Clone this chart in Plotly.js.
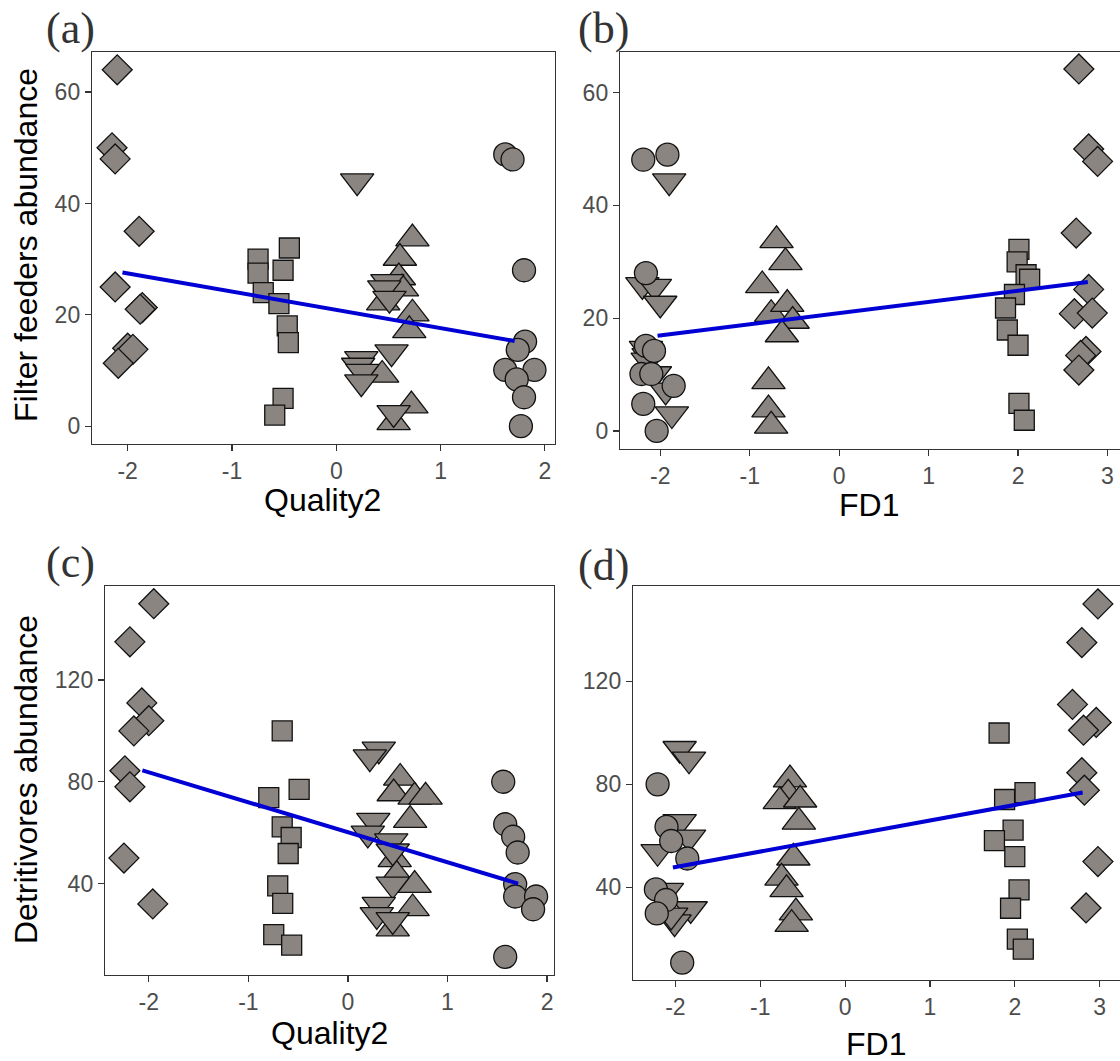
<!DOCTYPE html>
<html><head><meta charset="utf-8">
<script src="https://cdn.plot.ly/plotly-3.0.1.min.js"></script>
<style>html,body{margin:0;padding:0;background:#fff;overflow:hidden}#chart{width:1120px;height:1061px;}</style>
</head><body><div id="chart"></div>
<script>
// ---------- DATA ----------
// Panel (a): Quality2 vs Filter feeders abundance
const aDiaX = [-2.10, -2.15, -2.12, -1.89, -2.12, -1.86, -1.88, -2.00, -1.95, -2.09];
const aDiaY = [64, 50, 48, 35, 25, 21.3, 21, 14, 13.8, 11.3];
const aSqX  = [-0.75, -0.75, -0.70, -0.55, -0.45, -0.51, -0.47, -0.46, -0.51, -0.59];
const aSqY  = [30, 27.5, 24, 22, 32, 28, 18, 15, 5, 2];
const aTuX  = [0.73, 0.61, 0.60, 0.63, 0.45, 0.73, 0.70, 0.44, 0.72, 0.55];
const aTuY  = [33.7, 30.2, 26.7, 24.7, 22.2, 20.2, 17.2, 9.2, 3.7, 0.7];
const aTdX  = [0.20, 0.49, 0.46, 0.51, 0.53, 0.24, 0.21, 0.25, 0.24, 0.55];
const aTdY  = [44, 25.9, 24.8, 22.9, 13.3, 12.1, 10.9, 9.8, 7.9, 2.4];
const aCiX  = [1.62, 1.69, 1.80, 1.81, 1.74, 1.62, 1.90, 1.73, 1.80, 1.77];
const aCiY  = [48.8, 47.9, 28, 15.2, 13.7, 10.1, 10.1, 8.4, 5.2, 0];
const aFitX = [-2.05, 1.71];
const aFitY = [27.6, 15.3];

// Panel (b): FD1 vs Filter feeders abundance
const bDiaX = [2.68, 2.79, 2.89, 2.65, 2.79, 2.63, 2.83, 2.76, 2.70, 2.68];
const bDiaY = [64.2, 50, 47.8, 35.1, 25.1, 20.8, 20.9, 14.1, 13.4, 10.8];
const bSqX  = [2.01, 1.99, 2.09, 2.13, 1.96, 1.86, 1.88, 2.00, 2.01, 2.07];
const bSqY  = [32.2, 30.0, 27.7, 26.9, 24.2, 21.8, 17.9, 15.2, 4.9, 1.9];
const bTuX  = [-0.70, -0.60, -0.86, -0.76, -0.58, -0.52, -0.64, -0.79, -0.79, -0.76];
const bTuY  = [33.8, 29.9, 25.8, 20.7, 22.5, 19.5, 17.1, 8.8, 3.8, 0.9];
const bTdX  = [-1.90, -2.20, -2.06, -2.00, -2.16, -2.13, -2.14, -2.06, -1.94, -1.87];
const bTdY  = [44.3, 25.9, 25.6, 22.6, 14.6, 13.3, 12.5, 10.1, 7.2, 3.0];
const bCiX  = [-2.19, -1.92, -2.16, -2.16, -2.07, -2.21, -2.10, -1.85, -2.19, -2.04];
const bCiY  = [48.1, 49.0, 28.0, 15.1, 14.2, 10.1, 10.1, 8.0, 4.8, 0];
const bFitX = [-2.03, 2.78];
const bFitY = [16.9, 26.4];

// Panel (c): Quality2 vs Detritivores abundance
const cDiaX = [-1.95, -2.19, -2.07, -2.00, -2.15, -2.24, -2.19, -2.25, -1.96];
const cDiaY = [150, 135, 111, 104, 100, 84.3, 78, 50, 32];
const cSqX  = [-0.66, -0.49, -0.795, -0.66, -0.57, -0.60, -0.705, -0.655, -0.745, -0.565];
const cSqY  = [100, 77, 73.8, 62.3, 58.1, 51.8, 39.1, 32.2, 19.9, 15.8];
const cTuX  = [0.525, 0.46, 0.67, 0.78, 0.625, 0.47, 0.49, 0.67, 0.65, 0.45];
const cTuY  = [81.5, 75.4, 74.1, 74.1, 64.9, 49.5, 43.3, 39.4, 30.2, 22.3];
const cTdX  = [0.31, 0.22, 0.255, 0.20, 0.435, 0.45, 0.45, 0.31, 0.29, 0.45];
const cTdY  = [92.7, 89.7, 64.7, 59.7, 56.7, 52.7, 39.7, 31.7, 27.7, 25.7];
const cCiX  = [1.56, 1.58, 1.66, 1.705, 1.68, 1.68, 1.89, 1.86, 1.58];
const cCiY  = [80, 63.3, 58.4, 52.2, 39.8, 34.9, 34.9, 29.9, 11.2];
const cFitX = [-2.065, 1.71];
const cFitY = [84.5, 40];

// Panel (d): FD1 vs Detritivores abundance
const dDiaX = [2.98, 2.79, 2.68, 2.96, 2.81, 2.79, 2.82, 2.98, 2.84];
const dDiaY = [150, 135, 111, 104, 101, 84.5, 77.7, 50, 32];
const dSqX  = [1.815, 2.12, 1.88, 1.98, 1.76, 2.00, 2.05, 1.95, 2.03, 2.10];
const dSqY  = [99.9, 76.8, 74.1, 62.2, 58.1, 51.9, 39.0, 31.9, 19.9, 16.0];
const dTuX  = [-0.65, -0.67, -0.77, -0.53, -0.545, -0.61, -0.75, -0.69, -0.58, -0.63];
const dTuY  = [81.8, 76.3, 73.4, 74.0, 65.4, 51.5, 43.7, 39.2, 30.2, 25.7];
const dTdX  = [-1.95, -1.84, -1.95, -1.84, -2.21, -2.10, -1.82, -2.01, -2.05];
const dTdY  = [93.8, 89.7, 65.4, 59.4, 53.8, 38.7, 31.6, 26.5, 29.1];
const dCiX  = [-2.21, -2.105, -2.05, -1.86, -2.23, -2.11, -2.22, -1.92];
const dCiY  = [80, 63.5, 58, 51.2, 39.2, 35.1, 29.9, 10.8];
const dFitX = [-2.03, 2.80];
const dFitY = [47.7, 76.8];

// Tick values / labels
const tickQ = [-2, -1, 0, 1, 2];
const tickQText = ['-2', '-1', '0', '1', '2'];
const tickF = [-2, -1, 0, 1, 2, 3];
const tickFText = ['-2', '-1', '0', '1', '2', '3'];
const tickFF = [0, 20, 40, 60];
const tickFFText = ['0', '20', '40', '60'];
const tickDet = [40, 80, 120];
const tickDetText = ['40', '80', '120'];

const panelLabels = ['(a)', '(b)', '(c)', '(d)'];
const xTitles = ['Quality2', 'FD1', 'Quality2', 'FD1'];
const yTitles = ['Filter feeders abundance', 'Detritivores abundance'];

// ---------- STYLE ----------
const W = 1120, H = 1061;
const FILL = '#8a8581';
const EDGE = '#111111';
const SANS = 'Liberation Sans, Arial, sans-serif';
const SERIF = 'Liberation Serif, Times New Roman, serif';

function pts(x, y, sym, size, xa, ya) {
  return {type: 'scatter', mode: 'markers', x: x, y: y, xaxis: xa, yaxis: ya,
    marker: {symbol: sym, size: size, color: FILL, line: {color: EDGE, width: 1.3}},
    hoverinfo: 'skip', showlegend: false, cliponaxis: false};
}
function fit(x, y, xa, ya) {
  return {type: 'scatter', mode: 'lines', x: x, y: y, xaxis: xa, yaxis: ya,
    line: {color: '#0000d4', width: 4}, hoverinfo: 'skip', showlegend: false};
}
function panel(p, xa, ya) {
  return [
    pts(p.dx, p.dy, 'diamond', 23, xa, ya),
    pts(p.sx, p.sy, 'square', 20, xa, ya),
    pts(p.ux, p.uy, 'triangle-up', 29, xa, ya),
    pts(p.tx, p.ty, 'triangle-down', 29, xa, ya),
    pts(p.cx, p.cy, 'circle', 23, xa, ya),
    fit(p.fx, p.fy, xa, ya)
  ];
}

const data = [].concat(
  panel({dx:aDiaX,dy:aDiaY,sx:aSqX,sy:aSqY,ux:aTuX,uy:aTuY,tx:aTdX,ty:aTdY,cx:aCiX,cy:aCiY,fx:aFitX,fy:aFitY}, 'x', 'y'),
  panel({dx:bDiaX,dy:bDiaY,sx:bSqX,sy:bSqY,ux:bTuX,uy:bTuY,tx:bTdX,ty:bTdY,cx:bCiX,cy:bCiY,fx:bFitX,fy:bFitY}, 'x2', 'y2'),
  panel({dx:cDiaX,dy:cDiaY,sx:cSqX,sy:cSqY,ux:cTuX,uy:cTuY,tx:cTdX,ty:cTdY,cx:cCiX,cy:cCiY,fx:cFitX,fy:cFitY}, 'x3', 'y3'),
  panel({dx:dDiaX,dy:dDiaY,sx:dSqX,sy:dSqY,ux:dTuX,uy:dTuY,tx:dTdX,ty:dTdY,cx:dCiX,cy:dCiY,fx:dFitX,fy:dFitY}, 'x4', 'y4')
);

function ax(extra) {
  return Object.assign({
    showline: true, linecolor: '#333333', linewidth: 1.2, mirror: true,
    ticks: 'outside', ticklen: 6, tickwidth: 1.2, tickcolor: '#333333',
    showgrid: false, zeroline: false, fixedrange: true, tickmode: 'array',
    tickfont: {family: SANS, size: 23, color: '#4d4d4d'}
  }, extra);
}
function hx(a, b) { return [a / W, b / W]; }
function vy(top, bottom) { return [1 - bottom / H, 1 - top / H]; }

const layout = {
  width: W, height: H, margin: {l: 0, r: 0, t: 0, b: 0},
  paper_bgcolor: '#ffffff', plot_bgcolor: '#ffffff', showlegend: false,
  xaxis:  ax({domain: hx(92, 555),  anchor: 'y',  range: [-2.342, 2.097], tickvals: tickQ, ticktext: tickQText}),
  yaxis:  ax({domain: vy(52, 444),  anchor: 'x',  range: [-3.2, 67.2], tickvals: tickFF, ticktext: tickFFText}),
  xaxis2: ax({domain: hx(620, 1120), anchor: 'y2', range: [-2.45, 3.14], tickvals: tickF, ticktext: tickFText}),
  yaxis2: ax({domain: vy(52, 449),  anchor: 'x2', range: [-3.2, 67.2], tickvals: tickFF, ticktext: tickFFText, mirror: false}),
  xaxis3: ax({domain: hx(105, 554), anchor: 'y3', range: [-2.44, 2.07], tickvals: tickQ, ticktext: tickQText}),
  yaxis3: ax({domain: vy(586, 975), anchor: 'x3', range: [4.05, 156.95], tickvals: tickDet, ticktext: tickDetText}),
  xaxis4: ax({domain: hx(633, 1120), anchor: 'y4', range: [-2.50, 3.24], tickvals: tickF, ticktext: tickFText}),
  yaxis4: ax({domain: vy(586, 980), anchor: 'x4', range: [4.05, 156.95], tickvals: tickDet, ticktext: tickDetText, mirror: false}),
  annotations: []
};

function ann(text, x, y, font, angle) {
  return {text: text, x: x / W, y: 1 - y / H, xref: 'paper', yref: 'paper', showarrow: false,
    xanchor: 'center', yanchor: 'middle', textangle: angle || 0, font: font};
}
const titleFont = {family: SANS, size: 32, color: '#000000'};
const labelFont = {family: SERIF, size: 44, color: '#333333'};
layout.annotations.push(
  ann(panelLabels[0], 70, 28, labelFont),
  ann(panelLabels[1], 603, 28, labelFont),
  ann(panelLabels[2], 70, 562, labelFont),
  ann(panelLabels[3], 603, 565, labelFont),
  ann(xTitles[0], 322, 500, titleFont),
  ann(xTitles[1], 869, 505, titleFont),
  ann(xTitles[2], 329, 1033, titleFont),
  ann(xTitles[3], 876, 1044, titleFont),
  ann(yTitles[0], 26, 245, titleFont, -90),
  ann(yTitles[1], 26, 780, titleFont, -90)
);

Plotly.newPlot('chart', data, layout, {displayModeBar: false, staticPlot: true});
</script></body></html>
